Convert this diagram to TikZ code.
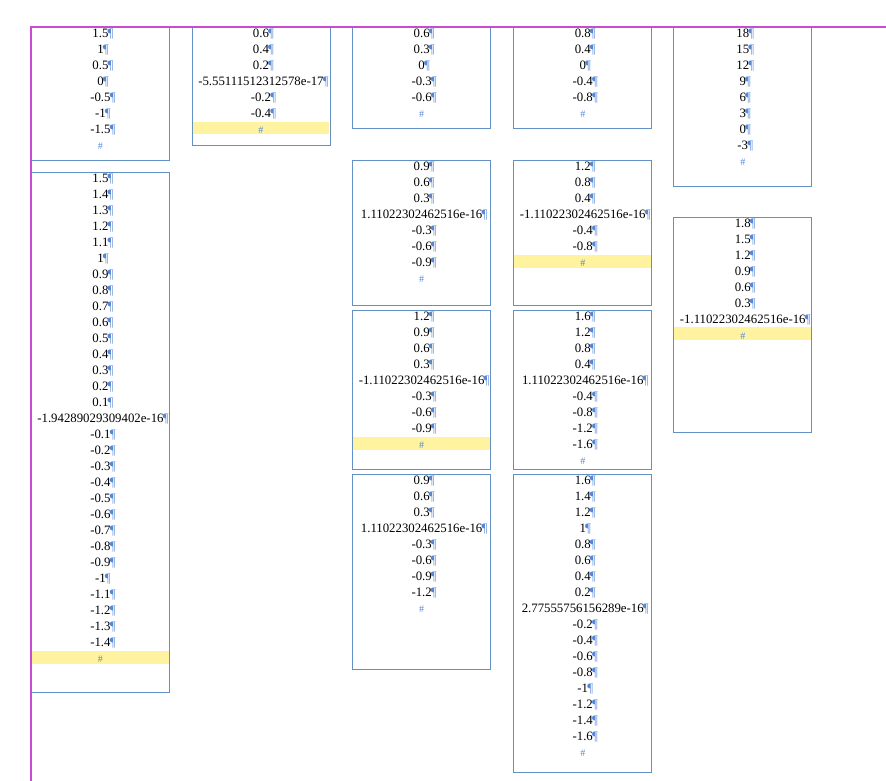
\documentclass[tikz,border=0pt]{standalone}
\usepackage{fontspec}
\setmainfont{Liberation Serif}
\usepackage{tikz}
\usepackage{xcolor}
\usetikzlibrary{positioning, calc}

\definecolor{framec}{RGB}{100,145,195}
\definecolor{markc}{RGB}{85,135,215}
\definecolor{hilitec}{RGB}{255,243,160}
\definecolor{marginc}{RGB}{200,75,210}

% paragraph mark and end of story
\newcommand{\pil}{\rlap{\kern-0.8pt\textcolor{markc}{\fontsize{13}{16}\selectfont¶}}}
\newcommand{\eos}{\textcolor{markc}{\fontsize{10}{16}\selectfont\#}}

\begin{document}
\begin{tikzpicture}[x=1pt, y=-1pt,
    frame/.style={draw=framec, line width=0.9pt, minimum width=138, inner sep=0, anchor=north west},
    story/.style={align=center, inner sep=0, anchor=north, font=\fontsize{12.8}{16}\selectfont},
    hilite/.style={fill=hilitec},
    margin/.style={color=marginc, line width=1.2pt}]
    \useasboundingbox (0,0) rectangle (886,781);

    % Text frames
    \node[frame, minimum height=133] (a1) at (31,27) {};
    \node[frame, minimum height=520] (a2) at (31,172) {};
    \node[frame, minimum height=118.3] (b1) at (191.5,27) {};
    \node[frame, minimum height=101.3] (c1) at (352.2,27) {};
    \node[frame, minimum height=145] (c2) at (352.2,160.3) {};
    \node[frame, minimum height=159] (c3) at (352.2,310.3) {};
    \node[frame, minimum height=195] (c4) at (352.2,474.3) {};
    \node[frame, minimum height=101.3] (d1) at (513.3,27) {};
    \node[frame, minimum height=145] (d2) at (513.3,160.3) {};
    \node[frame, minimum height=159] (d3) at (513.3,310.3) {};
    \node[frame, minimum height=298] (d4) at (513.3,474.3) {};
    \node[frame, minimum height=159] (e1) at (673.3,27) {};
    \node[frame, minimum height=215.6] (e2) at (673.3,216.7) {};

    % Highlighted end marks
    \fill[hilite] (32,651) rectangle (168.5,663.7);
    \fill[hilite] (192.5,121.7) rectangle (328.8,134.3);
    \fill[hilite] (353.2,437.3) rectangle (489.5,450);
    \fill[hilite] (514.3,255) rectangle (650.6,267.7);
    \fill[hilite] (674.3,327.3) rectangle (810.7,339.7);

    % Frame contents
    \node[story] (a1t) at ([yshift=-1.6pt]a1.north) {1.5\pil\\1\pil\\0.5\pil\\0\pil\\-0.5\pil\\-1\pil\\-1.5\pil\\\eos};
    \node[story] (a2t) at ([yshift=-1.6pt]a2.north) {1.5\pil\\1.4\pil\\1.3\pil\\1.2\pil\\1.1\pil\\1\pil\\0.9\pil\\0.8\pil\\0.7\pil\\0.6\pil\\0.5\pil\\0.4\pil\\0.3\pil\\0.2\pil\\0.1\pil\\-1.94289029309402e-16\pil\\-0.1\pil\\-0.2\pil\\-0.3\pil\\-0.4\pil\\-0.5\pil\\-0.6\pil\\-0.7\pil\\-0.8\pil\\-0.9\pil\\-1\pil\\-1.1\pil\\-1.2\pil\\-1.3\pil\\-1.4\pil\\\eos};
    \node[story] (b1t) at ([yshift=-1.6pt]b1.north) {0.6\pil\\0.4\pil\\0.2\pil\\-5.55111512312578e-17\pil\\-0.2\pil\\-0.4\pil\\\eos};
    \node[story] (c1t) at ([yshift=-1.6pt]c1.north) {0.6\pil\\0.3\pil\\0\pil\\-0.3\pil\\-0.6\pil\\\eos};
    \node[story] (c2t) at ([yshift=-1.6pt]c2.north) {0.9\pil\\0.6\pil\\0.3\pil\\1.11022302462516e-16\pil\\-0.3\pil\\-0.6\pil\\-0.9\pil\\\eos};
    \node[story] (c3t) at ([yshift=-1.6pt]c3.north) {1.2\pil\\0.9\pil\\0.6\pil\\0.3\pil\\-1.11022302462516e-16\pil\\-0.3\pil\\-0.6\pil\\-0.9\pil\\\eos};
    \node[story] (c4t) at ([yshift=-1.6pt]c4.north) {0.9\pil\\0.6\pil\\0.3\pil\\1.11022302462516e-16\pil\\-0.3\pil\\-0.6\pil\\-0.9\pil\\-1.2\pil\\\eos};
    \node[story] (d1t) at ([yshift=-1.6pt]d1.north) {0.8\pil\\0.4\pil\\0\pil\\-0.4\pil\\-0.8\pil\\\eos};
    \node[story] (d2t) at ([yshift=-1.6pt]d2.north) {1.2\pil\\0.8\pil\\0.4\pil\\-1.11022302462516e-16\pil\\-0.4\pil\\-0.8\pil\\\eos};
    \node[story] (d3t) at ([yshift=-1.6pt]d3.north) {1.6\pil\\1.2\pil\\0.8\pil\\0.4\pil\\1.11022302462516e-16\pil\\-0.4\pil\\-0.8\pil\\-1.2\pil\\-1.6\pil\\\eos};
    \node[story] (d4t) at ([yshift=-1.6pt]d4.north) {1.6\pil\\1.4\pil\\1.2\pil\\1\pil\\0.8\pil\\0.6\pil\\0.4\pil\\0.2\pil\\2.77555756156289e-16\pil\\-0.2\pil\\-0.4\pil\\-0.6\pil\\-0.8\pil\\-1\pil\\-1.2\pil\\-1.4\pil\\-1.6\pil\\\eos};
    \node[story] (e1t) at ([yshift=-1.6pt]e1.north) {18\pil\\15\pil\\12\pil\\9\pil\\6\pil\\3\pil\\0\pil\\-3\pil\\\eos};
    \node[story] (e2t) at ([yshift=-1.6pt]e2.north) {1.8\pil\\1.5\pil\\1.2\pil\\0.9\pil\\0.6\pil\\0.3\pil\\-1.11022302462516e-16\pil\\\eos};

    % Page margins
    \coordinate (pagetop) at (886,27);
    \coordinate (pagebottom) at (31,781);
    \draw[margin] (pagebottom) -- (pagebottom |- pagetop) -- (pagetop);
\end{tikzpicture}
\end{document}
